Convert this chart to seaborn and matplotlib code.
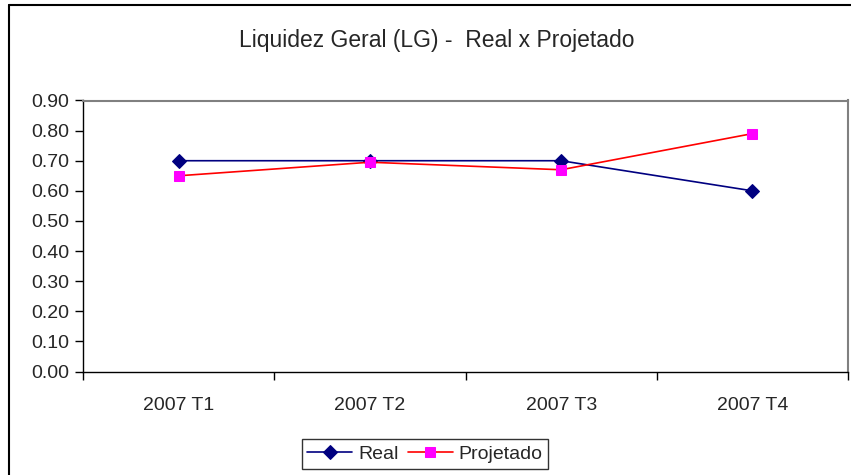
import matplotlib
matplotlib.use('Agg')
import matplotlib.pyplot as plt
from matplotlib.lines import Line2D
import seaborn as sns
import pandas as pd

# data
periods = ['2007 T1', '2007 T2', '2007 T3', '2007 T4']
real = [0.70, 0.70, 0.70, 0.60]
projetado = [0.65, 0.695, 0.67, 0.79]
yticks = [0.0, 0.1, 0.2, 0.3, 0.4, 0.5, 0.6, 0.7, 0.8, 0.9]

sns.set_style('white')
plt.rcParams['font.family'] = ['Liberation Sans', 'DejaVu Sans']

df = pd.DataFrame({'pos': range(len(periods)), 'Real': real, 'Projetado': projetado})

fig = plt.figure(figsize=(8.51, 4.75), dpi=100)
ax = fig.add_axes([83 / 851, 1 - 371.5 / 475, 765 / 851, 271 / 475])

sns.lineplot(data=df, x='pos', y='Real', ax=ax, color='#000080', lw=1.2,
             marker='D', markersize=7, markerfacecolor='#000080',
             markeredgecolor='#000080', label='Real')
sns.lineplot(data=df, x='pos', y='Projetado', ax=ax, color='#FF0000', lw=1.2,
             marker='s', markersize=6.5, markerfacecolor='#FF00FF',
             markeredgecolor='#FF00FF', label='Projetado')

ax.set_xlim(-0.5, len(periods) - 0.5)
ax.set_ylim(0, 0.9)
ax.set_yticks(yticks)
ax.set_yticklabels([f'{v:.2f}' for v in yticks], fontsize=14)
ax.set_xticks(range(len(periods)))
ax.set_xticklabels(periods, fontsize=14)
ax.set_xticks([i - 0.5 for i in range(len(periods) + 1)], minor=True)
ax.tick_params(axis='x', which='major', length=0, pad=18)
ax.tick_params(axis='x', which='minor', length=6, width=1, direction='out', color='black', bottom=True)
ax.tick_params(axis='y', length=6, width=1, direction='out', color='black', left=True, pad=4)
ax.set_xlabel('')
ax.set_ylabel('')

for side in ['left', 'bottom']:
    ax.spines[side].set_color('black')
    ax.spines[side].set_linewidth(1)
for side in ['top', 'right']:
    ax.spines[side].set_color('#808080')
    ax.spines[side].set_linewidth(1.5)

fig.text(437 / 851, 1 - 40 / 475, 'Liquidez Geral (LG) -  Real x Projetado',
         ha='center', va='center', fontsize=16.5)

leg = ax.legend(loc='center', bbox_to_anchor=(425 / 851, 1 - 454 / 475),
                bbox_transform=fig.transFigure, ncol=2, fontsize=14, frameon=True,
                fancybox=False, handlelength=2.3, handletextpad=0.3, columnspacing=0.5,
                borderpad=0.3, borderaxespad=0)
leg.get_frame().set_edgecolor('black')
leg.get_frame().set_linewidth(1)

# outer chart border (left and top visible in the crop)
fig.add_artist(Line2D([8.5 / 851, 8.5 / 851], [0, 1 - 5 / 475], transform=fig.transFigure,
                      color='black', lw=1.5))
fig.add_artist(Line2D([8.5 / 851, 1], [1 - 5 / 475, 1 - 5 / 475], transform=fig.transFigure,
                      color='black', lw=1.5))

fig.savefig('out.png', dpi=100)
